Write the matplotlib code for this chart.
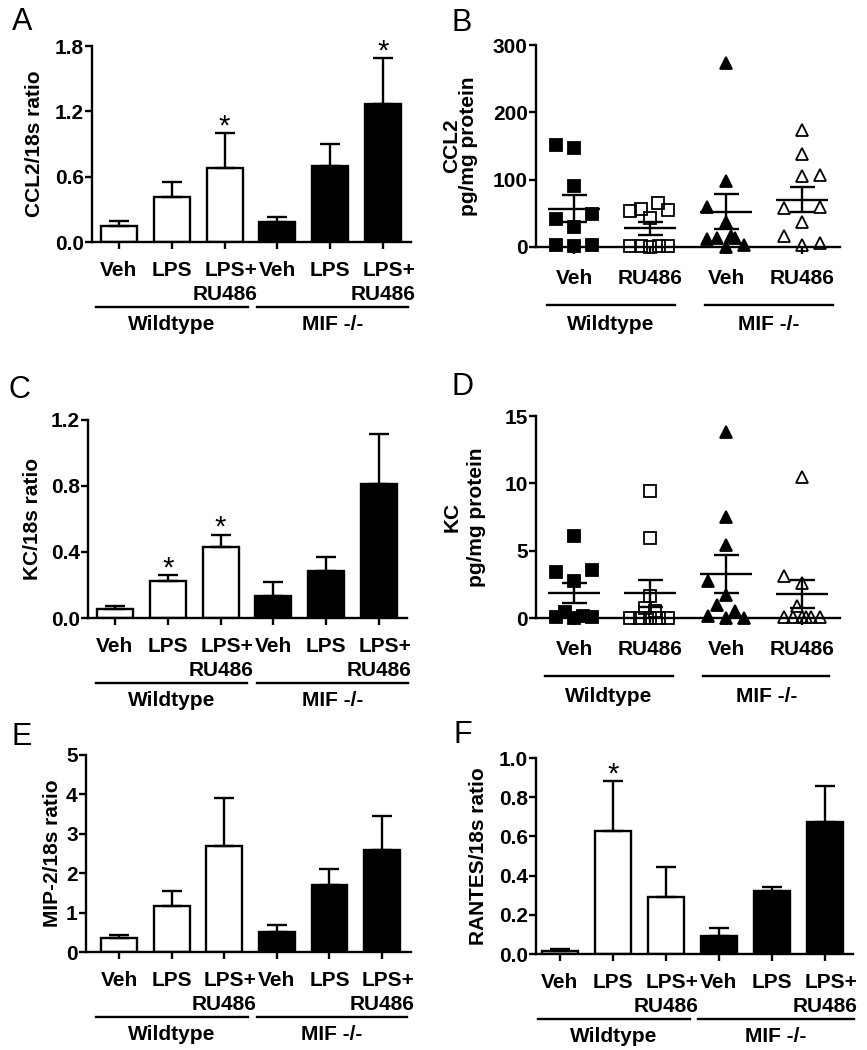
import matplotlib
matplotlib.use("Agg")
import matplotlib.pyplot as plt
import numpy as np

plt.rcParams['font.family'] = ['Liberation Sans', 'DejaVu Sans']
plt.rcParams['font.weight'] = 'bold'

# ---------------- data ----------------
bar_labels = ["Veh", "LPS", "LPS+\nRU486", "Veh", "LPS", "LPS+\nRU486"]
dot_labels = ["Veh", "RU486", "Veh", "RU486"]
genotypes = ["Wildtype", "MIF -/-"]

# A: CCL2 mRNA
ccl2_ratio = [0.15, 0.41, 0.68, 0.18, 0.70, 1.27]
ccl2_ratio_sem = [0.04, 0.14, 0.32, 0.05, 0.20, 0.42]
ccl2_ratio_sig = [0, 0, 1, 0, 0, 1]

# C: KC mRNA
kc_ratio = [0.054, 0.222, 0.43, 0.131, 0.282, 0.813]
kc_ratio_sem = [0.016, 0.036, 0.076, 0.085, 0.087, 0.304]
kc_ratio_sig = [0, 1, 1, 0, 0, 0]

# E: MIP-2 mRNA
mip2_ratio = [0.36, 1.17, 2.69, 0.51, 1.71, 2.58]
mip2_ratio_sem = [0.08, 0.37, 1.21, 0.18, 0.39, 0.88]
mip2_ratio_sig = [0, 0, 0, 0, 0, 0]

# F: RANTES mRNA
rantes_ratio = [0.017, 0.629, 0.293, 0.09, 0.322, 0.675]
rantes_ratio_sem = [0.008, 0.252, 0.149, 0.042, 0.022, 0.184]
rantes_ratio_sig = [0, 1, 0, 0, 0, 0]

# B: CCL2 protein (pg/mg protein), individual animals
ccl2_wt_veh = [151, 147, 90, 49, 41, 29, 3, 1, 3]
ccl2_wt_ru = [53, 56, 65, 55, 43, 1, 1, 0, 1, 1]
ccl2_mif_veh = [273, 98, 59, 37, 16, 14, 12, 13, 0, 3]
ccl2_mif_ru = [174, 138, 105, 107, 58, 59, 37, 16, 3, 6]

# D: KC protein (pg/mg protein), individual animals
kc_wt_veh = [6.1, 3.4, 3.58, 2.72, 0.05, 0.42, 0, 0.17, 0.05]
kc_wt_ru = [9.45, 5.97, 1.6, 0.74, 0.5, 0, 0, 0, 0, 0]
kc_mif_veh = [13.83, 7.53, 5.43, 2.72, 1.73, 0.99, 0.17, 0.49, 0, 0]
kc_mif_ru = [10.5, 3.14, 2.6, 0.91, 0.1, 0.1, 0.1, 0.1, 0.1, 0.1]

# horizontal spread of the dots inside each column (layout only)
jit_ccl2 = [
    [-0.24, 0, 0, 0.24, -0.24, 0, -0.24, 0, 0.24],
    [-0.26, -0.12, 0.1, 0.24, 0, -0.26, -0.12, 0, 0.12, 0.24],
    [0, 0, -0.25, 0, 0.06, 0.12, -0.25, -0.12, 0, 0.24],
    [0, 0, 0, 0.24, -0.24, 0.24, 0, -0.24, 0, 0.24],
]
jit_kc = [
    [0, -0.24, 0.24, 0, -0.24, -0.12, 0, 0.12, 0.24],
    [0, 0, 0, -0.07, 0.07, -0.26, -0.13, 0, 0.12, 0.24],
    [0, 0, 0, -0.24, 0, -0.12, -0.24, 0.12, 0, 0.24],
    [0, -0.24, 0, -0.06, -0.24, -0.12, 0, 0.05, 0.12, 0.24],
]

# ---------------- layout ----------------
W, H = 867, 1050
fig = plt.figure(figsize=(W / 100, H / 100), dpi=100)
FS = 15
LW = 1.7


def add_ax(left, top, right, bottom):
    return fig.add_axes([left / W, 1 - bottom / H, (right - left) / W, (bottom - top) / H])


def style(ax):
    ax.spines['top'].set_visible(False)
    ax.spines['right'].set_visible(False)
    ax.spines['left'].set_linewidth(LW)
    ax.spines['bottom'].set_linewidth(LW)
    ax.tick_params(direction='out', length=5, width=LW, labelsize=FS)
    ax.tick_params(axis='y', pad=1)


def fig_text(x, y, s, **kw):
    fig.text(x / W, 1 - y / H, s, **kw)


def groups(ax, spans, ax_h, line_off, text_off):
    trans = ax.get_xaxis_transform()
    for (x0, x1), name in zip(spans, genotypes):
        ax.plot([x0, x1], [-line_off / ax_h] * 2, color='black', lw=LW,
                transform=trans, clip_on=False)
        ax.text((x0 + x1) / 2, -text_off / ax_h, name, transform=trans,
                ha='center', va='center', fontsize=FS)


def bar_panel(ax, means, sems, sig, ylim, yticks, fmt, xlim, spans, ax_h):
    x = np.arange(len(means))
    colors = ['white'] * 3 + ['black'] * 3
    ax.bar(x, means, width=0.68, color=colors, edgecolor='black', linewidth=LW, zorder=2)
    ax.errorbar(x, means, yerr=[np.zeros(len(x)), sems], fmt='none', ecolor='black',
                elinewidth=LW, capsize=7, capthick=LW, zorder=3)
    for i in x:
        if sig[i]:
            ax.annotate('*', (i, means[i] + sems[i]), xytext=(0, -1),
                        textcoords='offset points', ha='center', va='baseline',
                        fontsize=21, fontweight='normal')
    ax.set_xlim(*xlim)
    ax.set_ylim(*ylim)
    ax.set_yticks(yticks)
    ax.set_yticklabels([fmt.format(v) for v in yticks])
    ax.set_xticks(x)
    ax.set_xticklabels(bar_labels, multialignment='right', linespacing=1.3)
    style(ax)
    ax.tick_params(axis='x', pad=9)
    groups(ax, spans, ax_h, 65, 83)


def dot_panel(ax, data, jitter, ylim, yticks, spans, ax_h):
    markers = ['s', 's', '^', '^']
    fills = ['black', 'none', 'black', 'none']
    for i, vals in enumerate(data):
        vals = np.array(vals, dtype=float)
        xs = i + np.array(jitter[i])
        ax.plot(xs, vals, linestyle='none', marker=markers[i], ms=8.5,
                mfc=fills[i], mec='black', mew=1.3, clip_on=False, zorder=3)
        m = vals.mean()
        s = vals.std(ddof=1) / np.sqrt(len(vals))
        ax.hlines(m, i - 0.34, i + 0.34, color='black', lw=LW, zorder=4)
        ax.errorbar(i, m, yerr=s, fmt='none', ecolor='black', elinewidth=LW,
                    capsize=9, capthick=LW, zorder=4)
    ax.set_xlim(-0.5, 3.5)
    ax.set_ylim(*ylim)
    ax.set_yticks(yticks)
    ax.set_xticks(range(4))
    ax.set_xticklabels(dot_labels)
    style(ax)
    ax.tick_params(axis='x', pad=11)
    groups(ax, spans, ax_h, 58, 78)


# A
axA = add_ax(92, 46, 411, 242)
bar_panel(axA, ccl2_ratio, ccl2_ratio_sem, ccl2_ratio_sig, (0, 1.8), [0, 0.6, 1.2, 1.8],
          "{:.1f}", (-0.51, 5.53), [(-0.44, 2.45), (2.62, 5.48)], 196)
# C
axC = add_ax(88, 420, 407, 618)
bar_panel(axC, kc_ratio, kc_ratio_sem, kc_ratio_sig, (0, 1.2), [0, 0.4, 0.8, 1.2],
          "{:.1f}", (-0.51, 5.53), [(-0.36, 2.5), (2.69, 5.55)], 198)
# E
axE = add_ax(86, 755, 411, 952)
bar_panel(axE, mip2_ratio, mip2_ratio_sem, mip2_ratio_sig, (0, 5), [0, 1, 2, 3, 4, 5],
          "{:.0f}", (-0.63, 5.55), [(-0.44, 2.45), (2.62, 5.48)], 197)
# F
axF = add_ax(536, 758, 853, 954)
bar_panel(axF, rantes_ratio, rantes_ratio_sem, rantes_ratio_sig, (0, 1.0),
          [0, 0.2, 0.4, 0.6, 0.8, 1.0], "{:.1f}", (-0.45, 5.53),
          [(-0.42, 2.45), (2.6, 5.55)], 196)
# B
axB = add_ax(536, 45, 840, 247)
dot_panel(axB, [ccl2_wt_veh, ccl2_wt_ru, ccl2_mif_veh, ccl2_mif_ru], jit_ccl2,
          (0, 300), [0, 100, 200, 300], [(-0.36, 1.33), (1.72, 3.41)], 202)
# D
axD = add_ax(536, 416, 840, 618)
dot_panel(axD, [kc_wt_veh, kc_wt_ru, kc_mif_veh, kc_mif_ru], jit_kc,
          (0, 15), [0, 5, 10, 15], [(-0.38, 1.30), (1.70, 3.36)], 202)

# y labels
ylab = dict(rotation=90, ha='center', va='center', fontsize=FS)
fig_text(35, 144, "CCL2/18s ratio", **ylab)
fig_text(32, 519, "KC/18s ratio", **ylab)
fig_text(53, 853, "MIP-2/18s ratio", **ylab)
fig_text(478, 856, "RANTES/18s ratio", **ylab)
fig_text(452, 146, "CCL2", **ylab)
fig_text(469, 146, "pg/mg protein", **ylab)
fig_text(452, 517, "KC", **ylab)
fig_text(476, 517, "pg/mg protein", **ylab)

# panel letters
for s, x, y in [("A", 12, 7), ("B", 451, 8), ("C", 9, 375),
                ("D", 451, 372), ("E", 11, 722), ("F", 453, 720)]:
    fig_text(x, y, s, fontsize=22, fontweight='normal', ha='left', va='top')

fig.savefig("out.png", dpi=100)
